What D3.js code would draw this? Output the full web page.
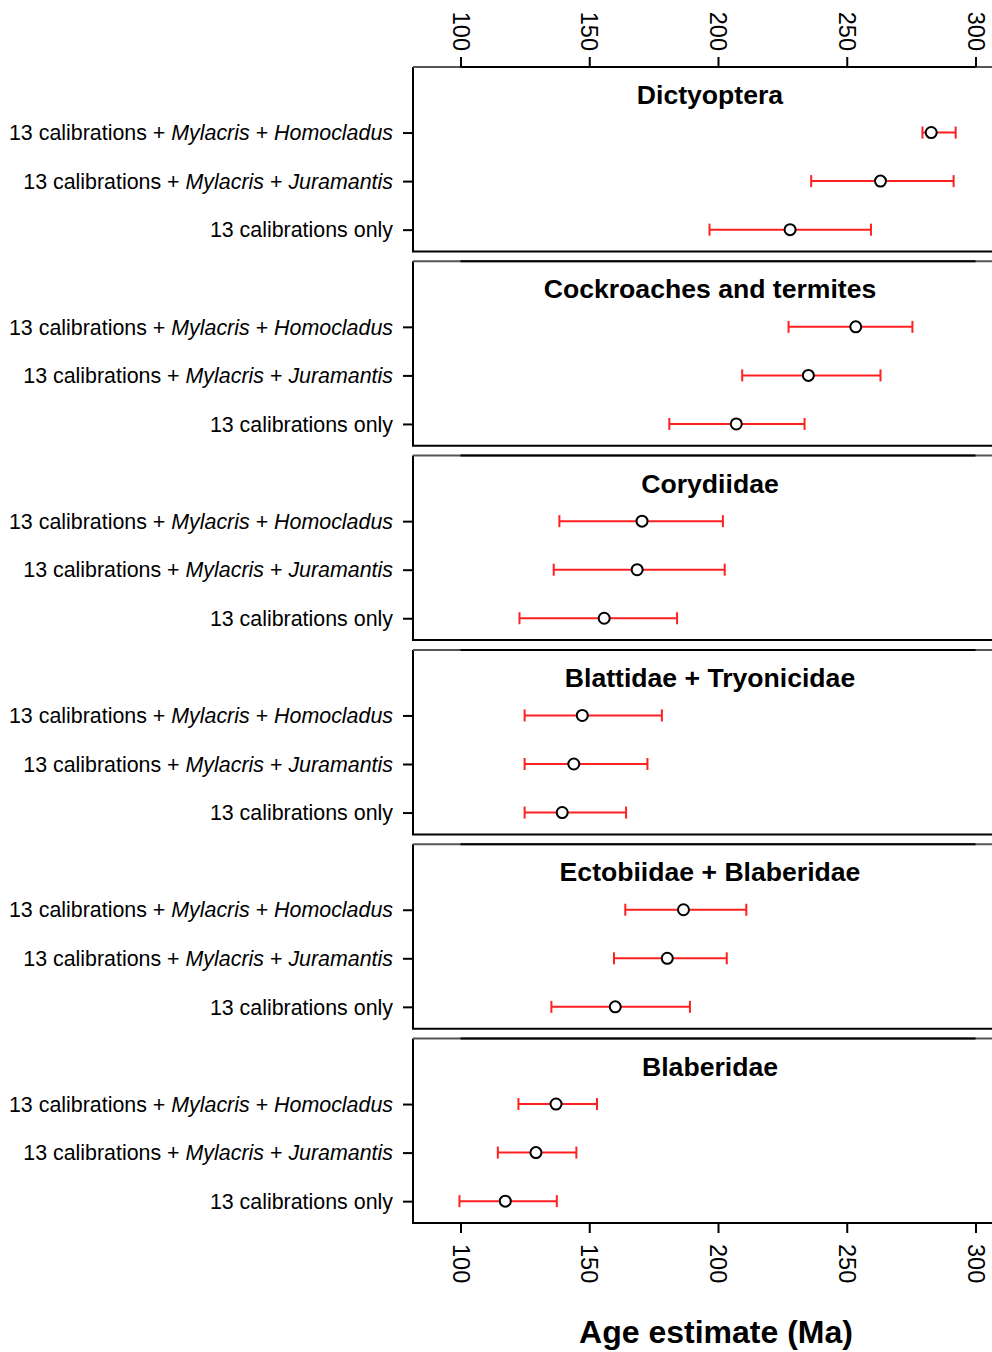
<!DOCTYPE html>
<html>
<head>
<meta charset="utf-8">
<script src="https://d3js.org/d3.v7.min.js"></script>
<style>
  html, body { margin: 0; padding: 0; background: #fff; }
  svg { display: block; font-family: "Liberation Sans", Arial, sans-serif; }
</style>
</head>
<body>
<svg id="chart" width="992" height="1352"></svg>
<script>
// ---------- data ----------
const groups = ["Dictyoptera", "Cockroaches and termites", "Corydiidae",
                "Blattidae + Tryonicidae", "Ectobiidae + Blaberidae", "Blaberidae"];

// treatment labels: [text, italic]
const treatmentLabels = [
  [["13 calibrations + ", false], ["Mylacris", true], [" + ", false], ["Homocladus", true]],
  [["13 calibrations + ", false], ["Mylacris", true], [" + ", false], ["Juramantis", true]],
  [["13 calibrations only", false]]
];
const treatmentPos = [3, 2, 1];

// Mylacris + Homocladus
const meanHomo = [282.8, 253.5, 170.5, 147.3, 186.6, 137.1];
const lowHomo  = [279.4, 227.4, 138.4, 124.9, 164.0, 122.5];
const highHomo = [292.3, 275.5, 201.9, 178.2, 211.0, 153.0];
// Mylacris + Juramantis
const meanJura = [263.1, 235.1, 168.6, 144.0, 180.3, 129.3];
const lowJura  = [236.2, 209.4, 136.2, 124.9, 159.6, 114.5];
const highJura = [291.5, 263.1, 202.6, 172.6, 203.4, 145.0];
// 13 calibrations only
const meanOnly = [228.0, 207.1, 155.8, 139.5, 160.1, 117.4];
const lowOnly  = [196.7, 181.1, 122.9, 124.9, 135.3,  99.6];
const highOnly = [259.4, 233.6, 184.1, 164.3, 189.1, 137.4];

const xTicks = [100, 150, 200, 250, 300];
const xTitle = "Age estimate (Ma)";

// ---------- layout ----------
const svg = d3.select("#chart");
const x = d3.scaleLinear().domain([100, 300]).range([460.5, 975.5]);
const boxLeft = 413, boxRight = 1007;
const panelTop0 = 67, panelH = 184.5, panelStep = 194.3;
const yDomain = [0.55, 4.35];

const series = [
  {mean: meanHomo, low: lowHomo, high: highHomo},
  {mean: meanJura, low: lowJura, high: highJura},
  {mean: meanOnly, low: lowOnly, high: highOnly}
];

groups.forEach((g, gi) => {
  const top = panelTop0 + gi * panelStep;
  const y = d3.scaleLinear().domain(yDomain).range([top + panelH, top]);
  const p = svg.append("g");

  // box
  p.append("path")
    .attr("d", `M${boxLeft},${top}V${top + panelH}H${boxRight}`)
    .attr("fill", "none").attr("stroke", "#000").attr("stroke-width", 2);
  p.append("line")
    .attr("x1", boxLeft).attr("x2", boxRight).attr("y1", top).attr("y2", top)
    .attr("stroke", "#555").attr("stroke-width", 2);
  p.append("line")
    .attr("x1", x(100)).attr("x2", x(300)).attr("y1", top).attr("y2", top)
    .attr("stroke", "#000").attr("stroke-width", 2);

  // y axis (treatments)
  const yAxis = d3.axisLeft(y).tickValues(treatmentPos).tickSize(10).tickSizeOuter(0).tickFormat("");
  const ya = p.append("g").attr("transform", `translate(${boxLeft},0)`).call(yAxis);
  ya.select(".domain").remove();
  ya.selectAll(".tick line").attr("stroke", "#000").attr("stroke-width", 2);
  treatmentPos.forEach((tp, ti) => {
    const t = p.append("text")
      .attr("x", 393).attr("y", y(tp)).attr("dy", "0.36em")
      .attr("text-anchor", "end").attr("font-size", 21.4).attr("fill", "#000");
    treatmentLabels[ti].forEach(([s, it]) => {
      t.append("tspan").text(s).attr("font-style", it ? "italic" : "normal");
    });
  });

  // title
  p.append("text")
    .attr("x", (boxLeft + boxRight) / 2).attr("y", top + 37)
    .attr("text-anchor", "middle").attr("font-size", 26.6).attr("font-weight", "bold")
    .attr("fill", "#000").text(g);

  // error bars + points
  series.forEach((s, si) => {
    const yy = y(treatmentPos[si]);
    const lo = s.low[gi], hi = s.high[gi], m = s.mean[gi];
    p.append("line").attr("x1", x(lo)).attr("x2", x(hi)).attr("y1", yy).attr("y2", yy)
      .attr("stroke", "#ff2020").attr("stroke-width", 2);
    [lo, hi].forEach(v => {
      p.append("line").attr("x1", x(v)).attr("x2", x(v)).attr("y1", yy - 6).attr("y2", yy + 6)
        .attr("stroke", "#ff2020").attr("stroke-width", 2);
    });
    p.append("circle").attr("cx", x(m)).attr("cy", yy).attr("r", 5.5)
      .attr("fill", "#fff").attr("stroke", "#000").attr("stroke-width", 2);
  });
});

// top axis
const topAxis = svg.append("g").attr("transform", `translate(0,${panelTop0})`)
  .call(d3.axisTop(x).tickValues(xTicks).tickSize(10).tickSizeOuter(0).tickFormat(d3.format("d")));
topAxis.select(".domain").remove();
topAxis.selectAll(".tick line").attr("stroke", "#000").attr("stroke-width", 2);
topAxis.selectAll(".tick text")
  .attr("x", 0).attr("y", 0).attr("dy", "0.36em")
  .attr("transform", "translate(0,-16) rotate(90)")
  .attr("text-anchor", "end").attr("font-size", 23.5).attr("fill", "#000")
  .attr("font-family", "Liberation Sans, Arial, sans-serif");

// bottom axis
const lastBottom = panelTop0 + 5 * panelStep + panelH;
const botAxis = svg.append("g").attr("transform", `translate(0,${lastBottom})`)
  .call(d3.axisBottom(x).tickValues(xTicks).tickSize(10).tickSizeOuter(0).tickFormat(d3.format("d")));
botAxis.select(".domain").remove();
botAxis.selectAll(".tick line").attr("stroke", "#000").attr("stroke-width", 2);
botAxis.selectAll(".tick text")
  .attr("x", 0).attr("y", 0).attr("dy", "0.36em")
  .attr("transform", "translate(0,21) rotate(90)")
  .attr("text-anchor", "start").attr("font-size", 23.5).attr("fill", "#000")
  .attr("font-family", "Liberation Sans, Arial, sans-serif");

// x title
svg.append("text").attr("x", 716).attr("y", 1343)
  .attr("text-anchor", "middle").attr("font-size", 32).attr("font-weight", "bold")
  .attr("fill", "#000").text(xTitle);
</script>
</body>
</html>
